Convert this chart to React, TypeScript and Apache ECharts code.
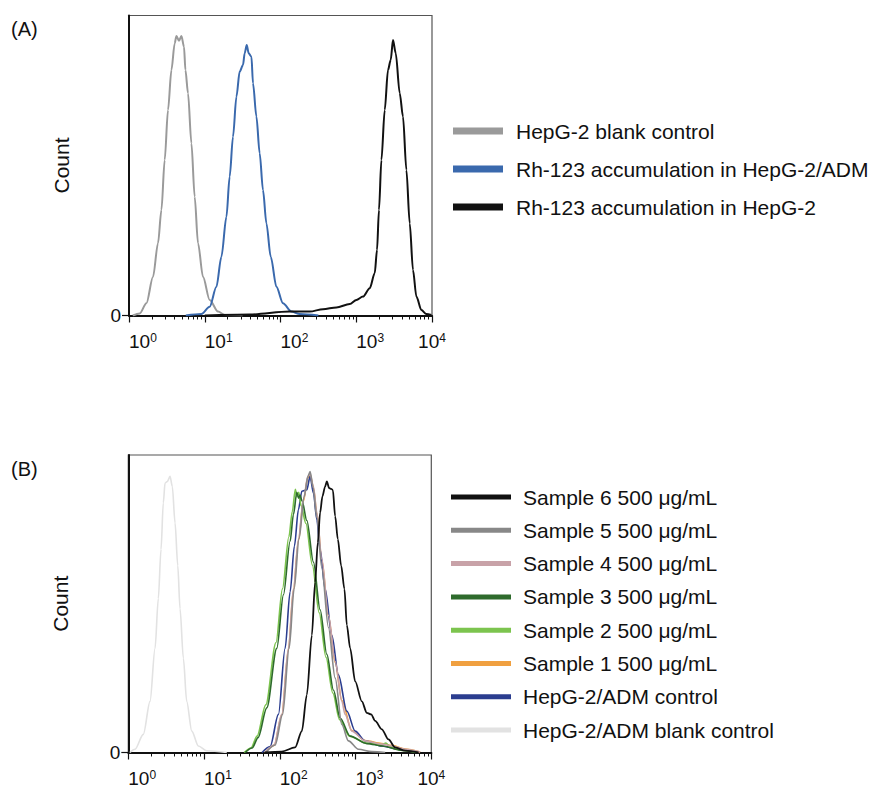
import React, { useEffect, useRef } from "react";
import * as echarts from "echarts";

// ---- Panel (A) data: x = log10(fluorescence intensity), y = count (% of axis height)
const aBlankX = [0.05, 0.141, 0.23, 0.317, 0.383, 0.428, 0.471, 0.515, 0.56, 0.603, 0.626, 0.66, 0.692, 0.726, 0.745, 0.779, 0.824, 0.867, 0.911, 0.977, 1.065, 1.175, 1.263, 1.5];
const aBlankY = [0, 0.7, 4.1, 12.9, 24.1, 35.2, 51.8, 68.5, 81.8, 90.7, 93.2, 91.6, 93.2, 89.6, 81.8, 74.1, 57.4, 39.6, 24.1, 12.9, 5.2, 1.3, 0.2, 0];

const aAdmX = [0.75, 0.956, 1.065, 1.154, 1.22, 1.286, 1.329, 1.373, 1.418, 1.461, 1.505, 1.527, 1.554, 1.58, 1.616, 1.637, 1.682, 1.725, 1.769, 1.814, 1.871, 1.946, 2.033, 2.144, 2.253, 2.5];
const aAdmY = [0, 0.5, 2.9, 9.6, 19.6, 32.9, 46.3, 59.6, 72.9, 81.3, 83.5, 87.4, 90.2, 87.4, 86.3, 77.4, 66.3, 54.1, 41.8, 30.7, 19.6, 9.6, 4.1, 1.3, 0.5, 0];

const aHepX = [1.0, 1.593, 2.121, 2.386, 2.561, 2.738, 2.914, 3.002, 3.089, 3.178, 3.244, 3.274, 3.3, 3.332, 3.376, 3.419, 3.455, 3.485, 3.521, 3.574, 3.617, 3.662, 3.706, 3.749, 3.794, 3.86, 3.926, 3.992];
const aHepY = [0, 0.3, 1.3, 1.3, 2.1, 2.7, 3.8, 5.2, 6.3, 9.1, 14.1, 21.8, 35.2, 51.8, 68.5, 81.8, 85.2, 91.8, 87.4, 74.1, 66.3, 48.5, 30.7, 15.2, 6.3, 1.8, 0.5, 0.2];

// ---- Panel (B) data
const bBlankX = [0.02, 0.089, 0.198, 0.287, 0.353, 0.396, 0.432, 0.462, 0.485, 0.515, 0.551, 0.581, 0.617, 0.653, 0.683, 0.727, 0.771, 0.838, 0.925, 1.036, 1.3];
const bBlankY = [0, 1.1, 6.1, 17.2, 35, 51.7, 68.3, 83.9, 90.6, 91.1, 92.8, 89.4, 77.2, 62.8, 48.3, 31.7, 17.2, 7.2, 2.2, 0.6, 0];

const bCtrlX = [1.766, 1.872, 1.982, 2.07, 2.136, 2.193, 2.246, 2.291, 2.357, 2.4, 2.444, 2.489, 2.532, 2.598, 2.687, 2.774, 2.885, 2.995, 3.127, 3.347, 3.567, 3.787];
const bCtrlY = [0, 2, 12.8, 35, 54, 69.4, 81.7, 87.8, 88.3, 92.8, 87.2, 78.3, 68.3, 55, 39.4, 26.1, 13.9, 7.2, 3.9, 2.2, 1.1, 0.3];

const bS1X = [1.806, 1.925, 2.026, 2.114, 2.18, 2.246, 2.312, 2.37, 2.4, 2.444, 2.489, 2.555, 2.642, 2.731, 2.819, 2.951, 3.127, 3.347, 3.48, 3.655, 3.853];
const bS1Y = [0, 2.4, 12.6, 34.6, 54.6, 71.2, 84.5, 92.3, 93.2, 89, 80.2, 64.6, 45.8, 30.3, 17.5, 7.4, 4, 3, 2.4, 1.2, 0.2];

const bS2X = [1.53, 1.62, 1.7, 1.815, 1.95, 2.035, 2.12, 2.165, 2.205, 2.225, 2.25, 2.28, 2.345, 2.43, 2.52, 2.61, 2.7, 2.79, 2.92, 3.14, 3.35, 3.4, 3.45, 3.6, 3.8];
const bS2Y = [0, 1.5, 5.5, 16, 37, 55, 72.5, 81, 88.5, 86, 87.5, 83, 77, 63, 47, 32, 20, 11, 5.5, 3.2, 2.6, 3.2, 2, 0.8, 0];

const bS3X = [1.542, 1.634, 1.713, 1.828, 1.96, 2.048, 2.136, 2.18, 2.225, 2.248, 2.268, 2.294, 2.357, 2.444, 2.532, 2.621, 2.708, 2.797, 2.929, 3.149, 3.365, 3.589, 3.827];
const bS3Y = [0, 1.5, 5, 15, 35, 53, 71, 80, 87.5, 85.5, 86.5, 84.5, 78, 64, 48, 33, 21, 11.5, 5.5, 3, 2.2, 0.8, 0];

const bS4X = [1.806, 1.925, 2.026, 2.114, 2.18, 2.246, 2.312, 2.37, 2.4, 2.444, 2.489, 2.555, 2.642, 2.731, 2.819, 2.862, 2.951, 3.127, 3.347, 3.48, 3.655, 3.853];
const bS4Y = [0, 2.5, 12.8, 35, 55, 71.7, 85, 92.8, 93.7, 89.4, 80.6, 65, 46.1, 30.6, 17.2, 12.8, 7.2, 3.9, 2.8, 2.2, 1.1, 0.2];

const bS5X = [1.819, 1.938, 2.037, 2.123, 2.189, 2.255, 2.321, 2.374, 2.4, 2.44, 2.489, 2.555, 2.642, 2.731, 2.819, 2.906, 3.038, 3.215, 3.391];
const bS5Y = [0, 2.5, 12.8, 35, 55, 72, 86, 93, 94.4, 89, 79, 62, 42, 25, 9.4, 3.9, 1.1, 0.3, 0];

const bS6X = [1.8, 2.026, 2.202, 2.291, 2.357, 2.423, 2.466, 2.502, 2.532, 2.563, 2.598, 2.621, 2.651, 2.678, 2.7, 2.731, 2.766, 2.81, 2.853, 2.885, 2.929, 2.995, 3.083, 3.149, 3.206, 3.259, 3.347, 3.435, 3.523, 3.655, 3.831];
const bS6Y = [0, 0.3, 1.7, 7.2, 19.4, 39.4, 57.2, 70.6, 80.6, 86.1, 89.4, 91.1, 88.9, 88.6, 88.3, 79.4, 71.7, 62.8, 55, 42.8, 35, 23.9, 17.2, 13.3, 12.8, 10.6, 7.8, 4.4, 1.7, 0.6, 0];

// ---- axis tick labels (decades) and legend names
const decades = [0, 1, 2, 3, 4];
const legendA = ["HepG-2 blank control", "Rh-123 accumulation in HepG-2/ADM", "Rh-123 accumulation in HepG-2"];
const legendB = [
  "Sample 6 500 \u03bcg/mL",
  "Sample 5 500 \u03bcg/mL",
  "Sample 4 500 \u03bcg/mL",
  "Sample 3 500 \u03bcg/mL",
  "Sample 2 500 \u03bcg/mL",
  "Sample 1 500 \u03bcg/mL",
  "HepG-2/ADM control",
  "HepG-2/ADM blank control",
];

const FONT = "'Liberation Sans', Arial, Helvetica, sans-serif";

const minorTicks: number[] = [];
for (let d = 0; d < 4; d++) for (let k = 2; k <= 9; k++) minorTicks.push(d + Math.log10(k));

const pairs = (xs: number[], ys: number[]) => xs.map((x, i) => [x, ys[i]]);

function lineSeries(name: string, xs: number[], ys: number[], color: string, idx: number, width: number) {
  return {
    type: "line",
    name,
    xAxisIndex: idx * 2,
    yAxisIndex: idx,
    data: pairs(xs, ys),
    showSymbol: false,
    smooth: 0.3,
    smoothMonotone: "x",
    itemStyle: { color },
    lineStyle: { color, width },
    silent: true,
    z: 3,
  };
}

function xAxes(gridIndex: number) {
  return [
    {
      type: "value",
      gridIndex,
      position: "bottom",
      min: decades[0],
      max: decades[decades.length - 1],
      interval: 1,
      axisLine: { show: true, onZero: false, lineStyle: { color: "#111", width: 2 } },
      axisTick: { show: true, length: 7, lineStyle: { color: "#111", width: 1.2 } },
      splitLine: { show: false },
      axisLabel: {
        margin: 16,
        align: "left",
        alignMaxLabel: "center",
        fontSize: 19,
        color: "#111",
        fontFamily: FONT,
        formatter: (v: number) => `{b|10}{s|${v}}`,
        rich: {
          b: { fontSize: 19, color: "#111", fontFamily: FONT, lineHeight: 20 },
          s: { fontSize: 12, color: "#111", fontFamily: FONT, verticalAlign: "top", lineHeight: 12 },
        },
      },
    },
    {
      type: "value",
      gridIndex,
      position: "bottom",
      min: decades[0],
      max: decades[decades.length - 1],
      axisLine: { show: false, onZero: false },
      axisTick: { show: true, length: 4, customValues: minorTicks, lineStyle: { color: "#111", width: 1 } },
      axisLabel: { show: false },
      splitLine: { show: false },
    },
  ];
}

function yAxis(gridIndex: number) {
  return {
    type: "value",
    gridIndex,
    min: 0,
    max: 100,
    name: "Count",
    nameLocation: "middle",
    nameGap: 57,
    nameTextStyle: { fontSize: 21, color: "#111", fontFamily: FONT },
    axisLine: { show: true, onZero: false, lineStyle: { color: "#111", width: 2 } },
    axisTick: { show: true, length: 7, customValues: [0], lineStyle: { color: "#111", width: 1.2 } },
    axisLabel: { customValues: [0], fontSize: 19, color: "#111", fontFamily: FONT, margin: 8 },
    splitLine: { show: false },
  };
}

export default function App() {
  const ref = useRef<HTMLDivElement>(null);
  useEffect(() => {
    if (!ref.current) return;
    const chart = echarts.init(ref.current, null, { renderer: "svg" });
    const option: any = {
      animation: false,
      backgroundColor: "#ffffff",
      textStyle: { fontFamily: FONT },
      grid: [
        { left: 129, top: 15.5, width: 303, height: 300, show: true, borderColor: "#555", borderWidth: 1.2, backgroundColor: "transparent" },
        { left: 128.3, top: 455, width: 303, height: 300, show: true, borderColor: "#555", borderWidth: 1.2, backgroundColor: "transparent" },
      ],
      xAxis: [...xAxes(0), ...xAxes(1)],
      yAxis: [yAxis(0), yAxis(1)],
      legend: [
        {
          data: legendA,
          orient: "vertical",
          left: 453,
          top: 119,
          padding: 0,
          icon: "rect",
          itemWidth: 50,
          itemHeight: 7,
          itemGap: 14,
          selectedMode: false,
          textStyle: { fontSize: 21, color: "#111", fontFamily: FONT, lineHeight: 24, padding: [0, 0, 0, 8] },
        },
        {
          data: legendB,
          orient: "vertical",
          left: 451,
          top: 485,
          padding: 0,
          icon: "rect",
          itemWidth: 60,
          itemHeight: 5,
          itemGap: 9.3,
          selectedMode: false,
          textStyle: { fontSize: 21, color: "#111", fontFamily: FONT, lineHeight: 24, padding: [0, 0, 0, 7] },
        },
      ],
      graphic: [
        { type: "text", left: 11, top: 19, style: { text: "(A)", fontSize: 20, fill: "#111", fontFamily: FONT } },
        { type: "text", left: 11, top: 459, style: { text: "(B)", fontSize: 20, fill: "#111", fontFamily: FONT } },
      ],
      series: [
        lineSeries(legendA[0], aBlankX, aBlankY, "#9a9a9a", 0, 2),
        lineSeries(legendA[1], aAdmX, aAdmY, "#3a69ad", 0, 2),
        lineSeries(legendA[2], aHepX, aHepY, "#111111", 0, 2),
        lineSeries(legendB[7], bBlankX, bBlankY, "#e2e2e2", 1, 1.6),
        lineSeries(legendB[5], bS1X, bS1Y, "#f0a040", 1, 1.6),
        lineSeries(legendB[6], bCtrlX, bCtrlY, "#2b3d8f", 1, 1.6),
        lineSeries(legendB[4], bS2X, bS2Y, "#7cc44e", 1, 1.6),
        lineSeries(legendB[3], bS3X, bS3Y, "#2e6b2c", 1, 1.6),
        lineSeries(legendB[2], bS4X, bS4Y, "#c8a2a8", 1, 1.6),
        lineSeries(legendB[1], bS5X, bS5Y, "#888888", 1, 1.6),
        lineSeries(legendB[0], bS6X, bS6Y, "#111111", 1, 1.8),
      ],
    };
    chart.setOption(option);
    return () => chart.dispose();
  }, []);
  return (
    <div
      ref={ref}
      style={{ position: "fixed", left: 0, top: 0, width: 879, height: 788, background: "#fff" }}
    />
  );
}
